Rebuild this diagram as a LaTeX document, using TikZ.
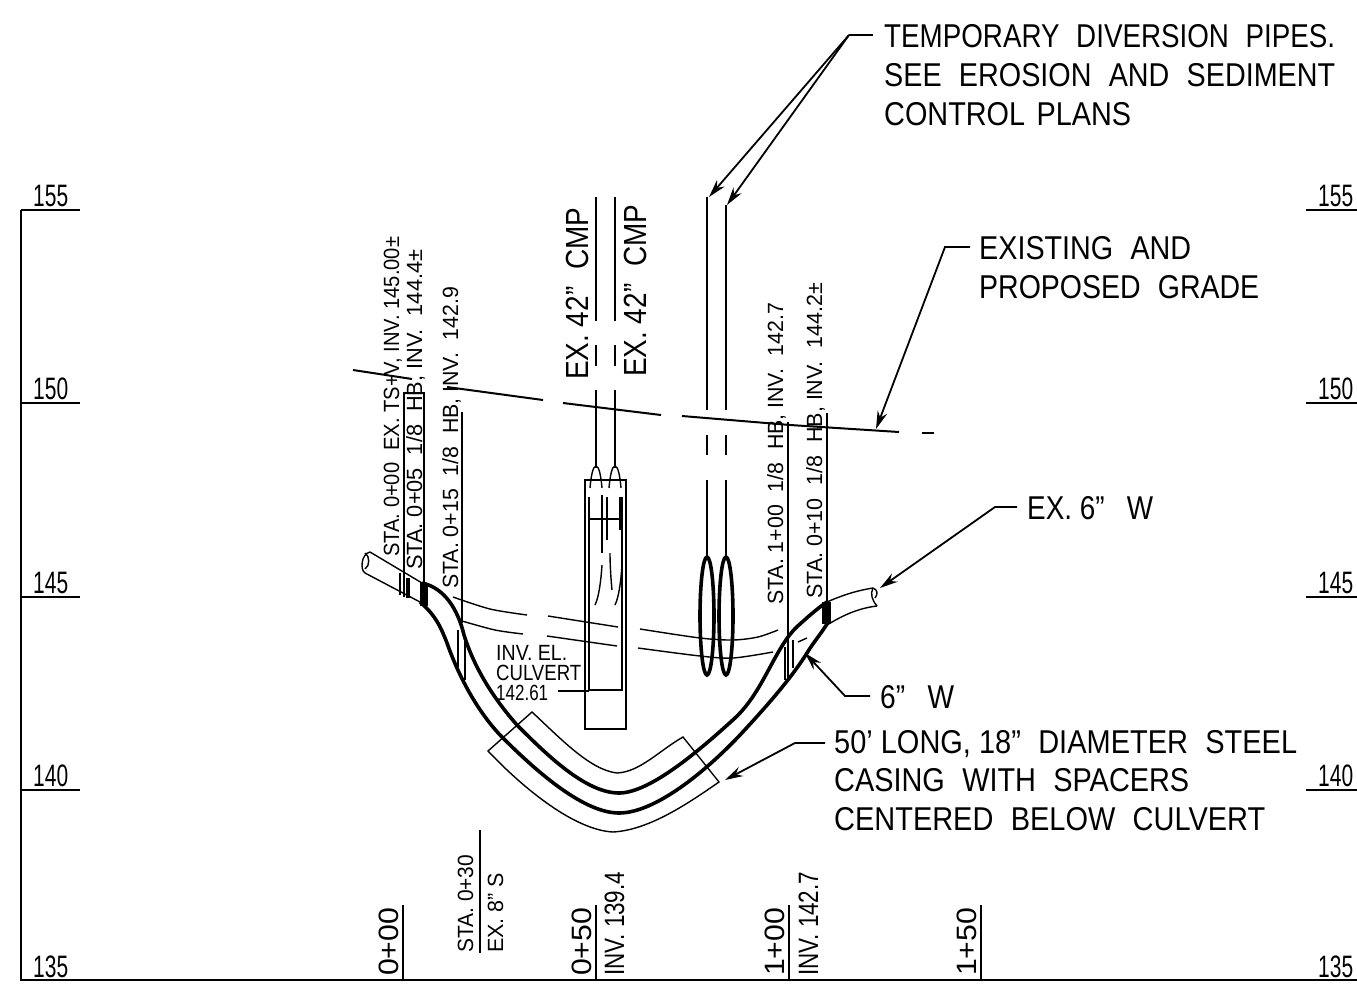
\documentclass[tikz,border=0pt]{standalone}
\usepackage{fontspec}
\usepackage{graphicx}
\setmainfont{Liberation Sans}
\usetikzlibrary{arrows.meta}
\newcommand{\tw}[2]{\resizebox{#1pt}{\height}{#2}}
\newcommand{\gp}{\hspace{.6em}}
\tikzset{
  lab/.style={inner sep=0pt,anchor=base west,font=\fontsize{33}{33}\selectfont},
  sta/.style={inner sep=0pt,anchor=base west,rotate=90,font=\fontsize{22}{22}\selectfont},
  big/.style={inner sep=0pt,anchor=base west,rotate=90,font=\fontsize{28}{28}\selectfont},
  cmpt/.style={inner sep=0pt,anchor=base west,rotate=90,font=\fontsize{32}{32}\selectfont},
  axl/.style={inner sep=0pt,anchor=base west,font=\fontsize{31}{31}\selectfont},
  cul/.style={inner sep=0pt,anchor=base west,font=\fontsize{22}{22}\selectfont},
  ln/.style={line width=2pt},
  thn/.style={line width=1.4pt},
  bold/.style={line width=3.6pt},
  lead/.style={line width=1.8pt,-{Stealth[length=18pt,width=10pt]}},
}
\begin{document}
\begin{tikzpicture}[x=1pt,y=-1pt]
\useasboundingbox (0,0) rectangle (1357,983);
% axes
\coordinate (o) at (21,210); \coordinate (bl) at (21,980); \coordinate (br) at (1357,980);
\draw[line width=2.4pt] (o) -- (bl) -- (br);
\foreach \y/\t/\b in {210/155/206,403/150/399,597/145/593,790/140/786}{
  \coordinate (l\t) at (21,\y); \coordinate (le\t) at (80,\y);
  \coordinate (r\t) at (1306,\y); \coordinate (re\t) at (1357,\y);
  \draw[ln] (l\t) -- (le\t);
  \draw[ln] (r\t) -- (re\t);
  \node[axl] (tl\t) at (33,\b) {\tw{35}{\t}};
  \node[axl] (tr\t) at (1318,\b) {\tw{35}{\t}};
}
\node[axl] (tl135) at (33,977) {\tw{35}{135}};
\node[axl] (tr135) at (1318,977) {\tw{35}{135}};
% stations
\foreach \x/\n/\t in {403/a/0+00,596/b/0+50,789/c/1+00,981/d/1+50}{
  \coordinate (st\n) at (\x,905); \coordinate (sb\n) at (\x,980);
  \draw[ln] (st\n) -- (sb\n);
  \node[big] (tt\n) at (\x-5,976) {\tw{68}{\t}};
}
\node[big] (inv1) at (624,976) {\tw{104}{INV. 139.4}};
\node[big] (inv2) at (818,976) {\tw{104}{INV. 142.7}};
\coordinate (s30a) at (480,830); \coordinate (s30b) at (480,953);
\draw[ln] (s30a) -- (s30b);
\node[sta] (s30t) at (473,953) {\tw{98}{STA. 0+30}};
\node[sta] (s30e) at (503,953) {\tw{80}{EX. 8" S}};
% notes
\node[lab] (n1a) at (884,47) {\tw{451}{TEMPORARY\gp DIVERSION\gp PIPES.}};
\node[lab] (n1b) at (884,86) {\tw{451}{SEE\gp EROSION\gp AND\gp SEDIMENT}};
\node[lab] (n1c) at (884,125) {\tw{247}{CONTROL\hspace{.4em}PLANS}};
\node[lab] (n2a) at (979,259) {\tw{212}{EXISTING\gp AND}};
\node[lab] (n2b) at (979,298) {\tw{280}{PROPOSED\gp GRADE}};
\node[lab] (n3) at (1027,519) {\tw{126}{EX. 6"\hspace{.8em}W}};
\node[lab] (n4) at (880,708) {\tw{74}{6"\hspace{.8em}W}};
\node[lab] (n5a) at (834,753) {\tw{463}{50' LONG, 18"\gp DIAMETER\gp STEEL}};
\node[lab] (n5b) at (834,791) {\tw{355}{CASING\gp WITH\gp SPACERS}};
\node[lab] (n5c) at (834,830) {\tw{431}{CENTERED\gp BELOW\gp CULVERT}};
% vertical station labels
\node[sta] (a0) at (399,557) {\tw{320}{STA. 0+00\gp EX. TS+V, INV. 145.00±}};
\node[sta] (a1) at (422,570) {\tw{320}{STA. 0+05\gp 1/8\gp HB, INV.\gp 144.4±}};
\node[sta] (a2) at (458,589) {\tw{302}{STA. 0+15\gp 1/8\gp HB, INV.\gp 142.9}};
\node[sta] (a3) at (783,605) {\tw{302}{STA. 1+00\gp 1/8\gp HB, INV.\gp 142.7}};
\node[sta] (a4) at (822,599) {\tw{316}{STA. 0+10\gp 1/8\gp HB, INV.\gp 144.2±}};
\node[cmpt] (c1) at (588,380) {\tw{172}{EX. 42"\gp CMP}};
\node[cmpt] (c2) at (646,377) {\tw{172}{EX. 42"\gp CMP}};
\draw[ln] (404,597) -- (404,393) -- (424,393) -- (424,583);
\draw[ln] (462,412) -- (462,623);
\draw[ln] (788,422) -- (788,680);
\draw[ln] (827,413) -- (827,602);
% grade
\draw[ln] (353,370) -- (412,379);
\draw[ln] (447,387) -- (543,400);
\draw[ln] (563,403) -- (661,415);
\draw[ln] (682,416) -- (790,425) -- (899,432);
\draw[ln] (922,433) -- (934,433);
% CMP
\foreach \x in {596,615}{
  \draw[ln] (\x,197) -- (\x,321);
  \draw[ln] (\x,345) -- (\x,366);
  \draw[thn] (\x,390) -- (\x,468);
  \draw[thn] (\x-6,488) .. controls (\x-5,476) and (\x-3,466) .. (\x,466) .. controls (\x+3,466) and (\x+5,476) .. (\x+6,488);
}
\draw[ln] (585,480) rectangle (626,729);
\draw[ln] (589,497) -- (589,690) -- (622,690) -- (622,497);
\draw[thn] (590,519) -- (621,519);
\draw[thn] (602,495) -- (602,553);
\draw[thn] (607,497) -- (607,540);
\draw[thn] (620,497) -- (620,530);
\draw[thn] (610,553) .. controls (610,565) and (611,580) .. (612,590);
\draw[thn] (602,565) .. controls (601,580) and (599,597) .. (595,605);
\draw[thn] (622,565) .. controls (621,580) and (619,597) .. (615,605);
% diversion pipes
\foreach \x/\t in {707/197,726/205}{
  \draw[ln] (\x,\t) -- (\x,410);
  \draw[ln] (\x,435) -- (\x,455);
  \draw[ln] (\x,480) -- (\x,557);
  \draw[bold] (\x,616) ellipse (7 and 59);
}
% culvert pipe
\draw[bold] (422,583) .. controls (445,588) and (458,610) .. (464,635) .. controls (475,670) and (495,700) .. (517,725) .. controls (545,753) and (585,793) .. (619,793) .. controls (650,793) and (700,750) .. (735,718) .. controls (765,690) and (775,645) .. (800,624) .. controls (810,615) and (818,608) .. (827,602);
\draw[bold] (420,602) .. controls (435,615) and (440,625) .. (447,643) .. controls (460,680) and (480,715) .. (503,738) .. controls (540,775) and (585,813) .. (619,813) .. controls (655,813) and (705,772) .. (740,735) .. controls (765,708) and (790,680) .. (807,653) .. controls (813,643) and (820,635) .. (827,624);
% casing
\draw[thn] (532,712) .. controls (560,738) and (590,770) .. (617,773) .. controls (640,772) and (660,750) .. (683,737) -- (719,782) .. controls (690,802) and (650,830) .. (613,832) .. controls (575,830) and (525,790) .. (488,751) -- cycle;
% existing thin
\draw[thn] (370,552) -- (422,583);
\draw[thn] (365,573) -- (420,602);
\draw[thn] (370,552) .. controls (361,554) and (360,570) .. (365,573);
\draw[thn] (365,553) .. controls (370,556) and (370,566) .. (365,569);
\draw[thn] (827,602) .. controls (845,594) and (860,590) .. (873,588);
\draw[thn] (827,625) .. controls (845,614) and (860,608) .. (877,606);
\draw[thn] (873,588) .. controls (870,594) and (872,600) .. (877,606);
\draw[thn] (873,588) .. controls (878,590) and (878,594) .. (875,598);
\draw[thn] (400,573) -- (400,595);
\draw[thn] (407,578) -- (407,598);
\draw[thn] (409,578) -- (409,598);
\fill (420,583) rectangle (428,606);
\fill (822,602) rectangle (831,624);
\draw[thn] (458,630) -- (458,667);
\draw[thn] (465,640) -- (465,680);
\draw[thn] (785,647) -- (785,680);
\draw[thn] (793,640) -- (793,668);
\draw[thn] plot[smooth] coordinates {(453,597) (490,609) (527,615)};
\draw[thn] (548,616) -- (618,627);
\draw[thn] plot[smooth] coordinates {(640,629) (700,638) (733,640) (758,637) (778,630)};
\draw[thn] plot[smooth] coordinates {(462,621) (495,630) (523,634)};
\draw[thn] (547,636) -- (617,646);
\draw[thn] plot[smooth] coordinates {(638,648) (700,656) (733,658) (773,652)};
\draw[thn] (798,642) -- (807,638);
% culvert label
\node[cul] (u1) at (496,660) {\tw{71}{INV. EL.}};
\node[cul] (u2) at (496,680) {\tw{85}{CULVERT}};
\node[cul] (u3) at (496,700) {\tw{52}{142.61}};
\coordinate (u4) at (558,691); \coordinate (u5) at (589,691);
\draw[line width=1.1pt] (u4) -- (u5);
% leaders
\coordinate (k1) at (873,35); \coordinate (k1b) at (849,35);
\draw[line width=1.4pt] (k1) -- (k1b);
\draw[lead] (k1b) -- (709,197);
\draw[lead] (k1b) -- (727,205);
\coordinate (k2) at (970,247); \coordinate (k2b) at (945,247); \coordinate (k2c) at (876,429);
\draw[lead] (k2) -- (k2b) -- (k2c);
\coordinate (k3) at (1017,507); \coordinate (k3b) at (995,507); \coordinate (k3c) at (880,588);
\draw[lead] (k3) -- (k3b) -- (k3c);
\coordinate (k4) at (870,696); \coordinate (k4b) at (845,696); \coordinate (k4c) at (805,653);
\draw[lead] (k4) -- (k4b) -- (k4c);
\coordinate (k5) at (825,743); \coordinate (k5b) at (795,743); \coordinate (k5c) at (725,780);
\draw[lead] (k5) -- (k5b) -- (k5c);
\end{tikzpicture}
\end{document}
